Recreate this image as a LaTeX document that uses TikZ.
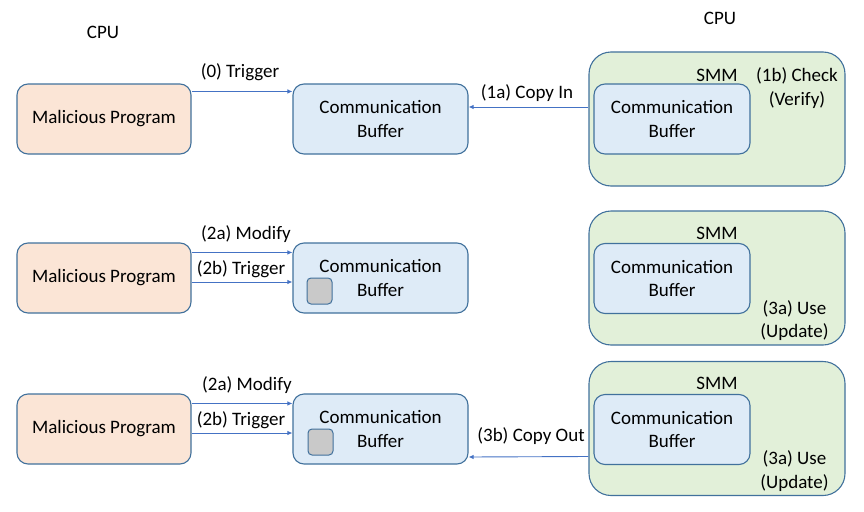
\documentclass[tikz,border=0pt]{standalone}
\usepackage{fontspec}
\setmainfont{Carlito}
\usetikzlibrary{arrows.meta}
\definecolor{boxline}{HTML}{41719C}
\definecolor{arrblue}{HTML}{4472C4}
\definecolor{peach}{HTML}{FBE5D6}
\definecolor{bufblue}{HTML}{DEEBF7}
\definecolor{smmgreen}{HTML}{E2F0D9}
\definecolor{cellgray}{HTML}{C9C9C9}
\begin{document}
\begin{tikzpicture}[x=1pt,y=-1pt,font=\fontsize{19}{23.5}\selectfont,line join=round,>={Latex[length=5pt,width=4.5pt]},
  box/.style={draw=boxline,line width=1.1pt,rounded corners=11pt,align=center,inner sep=0pt,minimum width=174pt,minimum height=70pt},
  mal/.style={box,fill=peach},
  buf/.style={box,fill=bufblue,minimum width=175pt},
  inbuf/.style={box,fill=bufblue,minimum width=156pt},
  smm/.style={draw=boxline,line width=1.1pt,rounded corners=22pt,fill=smmgreen,minimum width=256pt,minimum height=134pt},
  cell/.style={draw=boxline,line width=1pt,fill=cellgray,rounded corners=4pt,inner sep=0pt,minimum width=25pt,minimum height=26pt},
  arr/.style={->,draw=arrblue,line width=0.9pt},
  lbl/.style={inner sep=0pt,align=center}]
\useasboundingbox (0,0) rectangle (864,511);
%\draw[gray!30] (0,0) grid[step=50] (864,511);
\node[lbl] (cpuL) at (103,32) {CPU};
\node[lbl] (cpuR) at (720,18) {CPU};
% first row
\node[mal] (mp1) at (104,119) {Malicious Program};
\node[buf] (cb1) at (380.5,119) {Communication\\Buffer};
\node[smm] (smm1) at (717,119) {};
\node[inbuf] (sb1) at (672,119) {Communication\\Buffer};
\node[lbl] (smmlbl1) at (717,75) {SMM};
\node[lbl] (check) at (797,88) {(1b) Check\\(Verify)};
\draw[arr] ([yshift=-8pt]mp1.north east) -- ([yshift=-8pt]cb1.north west);
\node[lbl] (trig0) at (240,72) {(0) Trigger};
\draw[arr] ([yshift=12pt]smm1.west) -- ([yshift=12pt]cb1.east);
\node[lbl] (copyin) at (527,93) {(1a) Copy In};
% second row
\node[mal] (mp2) at (104,278) {Malicious Program};
\node[buf] (cb2) at (380.5,278) {Communication\\Buffer};
\node[cell] (gc2) at (319.5,291) {};
\node[smm] (smm2) at (717,278) {};
\node[inbuf] (sb2) at (672,278.5) {Communication\\Buffer};
\node[lbl] (smmlbl2) at (717,233) {SMM};
\node[lbl] (use2) at (794.5,320.5) {(3a) Use\\(Update)};
\draw[arr] ([yshift=-10pt]mp2.north east) -- ([yshift=-10pt]cb2.north west);
\draw[arr] ([yshift=-4pt]mp2.east) -- ([yshift=-4pt]cb2.west);
\node[lbl] (mod2) at (246,234) {(2a) Modify};
\node[lbl] (trig2) at (241,269) {(2b) Trigger};
% third row
\node[mal] (mp3) at (104,429) {Malicious Program};
\node[buf] (cb3) at (380.5,429) {Communication\\Buffer};
\node[cell] (gc3) at (320.5,442) {};
\node[smm] (smm3) at (717,428.5) {};
\node[inbuf] (sb3) at (672,429.5) {Communication\\Buffer};
\node[lbl] (smmlbl3) at (717,383) {SMM};
\node[lbl] (use3) at (794.5,471) {(3a) Use\\(Update)};
\draw[arr] ([yshift=-10pt]mp3.north east) -- ([yshift=-10pt]cb3.north west);
\draw[arr] ([yshift=-4pt]mp3.east) -- ([yshift=-4pt]cb3.west);
\draw[arr] ([yshift=-28pt]smm3.west) -- ([yshift=-28pt]cb3.east);
\node[lbl] (mod3) at (247,385) {(2a) Modify};
\node[lbl] (trig3) at (241,420) {(2b) Trigger};
\node[lbl] (copyout) at (531,436) {(3b) Copy Out};
\end{tikzpicture}
\end{document}
